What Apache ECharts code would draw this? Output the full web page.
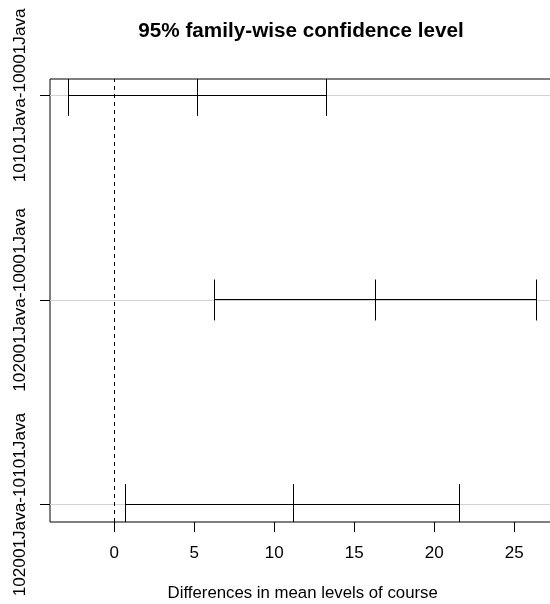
<!DOCTYPE html>
<html>
<head>
<meta charset="utf-8">
<script src="https://cdn.jsdelivr.net/npm/echarts@6/dist/echarts.min.js"></script>
<style>html,body{margin:0;padding:0;background:#fff;}#c{width:550px;height:604px;}</style>
</head>
<body>
<div id="c"></div>
<script>
var comparisons = ['10101Java-10001Java', '102001Java-10001Java', '102001Java-10101Java'];
var diffs = [5.20, 16.35, 11.17];
var lwrs = [-2.89, 6.29, 0.73];
var uprs = [13.29, 26.40, 21.60];
var xTicks = [0, 5, 10, 15, 20, 25];
var rowPos = [3, 2, 1];

var FONT = '"Liberation Sans", Arial, sans-serif';
var chart = echarts.init(document.getElementById('c'), null, {renderer: 'canvas'});

var ciData = comparisons.map(function (name, i) {
  return [rowPos[i], lwrs[i], diffs[i], uprs[i]];
});

function crisp(v) { return Math.round(v - 0.5) + 0.5; }

var option = {
  backgroundColor: '#fff',
  animation: false,
  title: {
    text: '95% family-wise confidence level',
    left: 296, top: 16, textAlign: 'center',
    textStyle: {fontFamily: FONT, fontSize: 20.7, fontWeight: 'bold', color: '#000'}
  },
  grid: {left: 50, right: -5.4, top: 79, bottom: 82, show: true, borderColor: '#000', borderWidth: 1, backgroundColor: 'transparent', outerBoundsMode: 'none', containLabel: false},
  xAxis: {
    type: 'value', min: -4.02, max: 27.57,
    name: 'Differences in mean levels of course', nameLocation: 'middle', nameGap: 63,
    nameTextStyle: {fontFamily: FONT, fontSize: 16.8, color: '#000'},
    axisLine: {show: false, onZero: false},
    axisTick: {show: true, inside: false, length: 10, customValues: xTicks, lineStyle: {color: '#000', width: 1}},
    axisLabel: {customValues: xTicks, margin: 23, fontFamily: FONT, fontSize: 17, color: '#000'},
    splitLine: {show: false}
  },
  yAxis: {
    type: 'value', min: 0.915, max: 3.08,
    axisLine: {show: false, onZero: false},
    axisTick: {show: true, inside: false, length: 10, customValues: rowPos, lineStyle: {color: '#000', width: 1}},
    axisLabel: {
      customValues: rowPos, rotate: 90, margin: 21,
      fontFamily: FONT, fontSize: 17.2, color: '#000',
      formatter: function (v) {
        var idx = rowPos.indexOf(Math.round(v));
        return idx >= 0 ? comparisons[idx] : '';
      }
    },
    splitLine: {show: false}
  },
  series: [
    {
      type: 'line', data: [], silent: true, z: 1,
      markLine: {
        silent: true, symbol: ['none', 'none'], label: {show: false}, z: 1,
        lineStyle: {color: '#d3d3d3', type: 'solid', width: 1},
        data: rowPos.map(function (r) { return {yAxis: r}; })
      }
    },
    {
      type: 'line', data: [], silent: true, z: 2,
      markLine: {
        silent: true, symbol: ['none', 'none'], label: {show: false}, z: 2,
        lineStyle: {color: '#000', type: [4, 4], width: 1},
        data: [{xAxis: 0}]
      }
    },
    {
      type: 'custom', clip: true, silent: true, z: 10,
      data: ciData,
      encode: {x: [1, 2, 3], y: 0},
      renderItem: function (params, api) {
        var y = api.value(0);
        var l = api.coord([api.value(1), y]);
        var m = api.coord([api.value(2), y]);
        var u = api.coord([api.value(3), y]);
        var yc = crisp(l[1]);
        var top = api.coord([0, y + 0.1])[1];
        var bot = api.coord([0, y - 0.1])[1];
        var st = {stroke: '#000', lineWidth: 1};
        function seg(x1, y1, x2, y2) {
          return {type: 'line', shape: {x1: x1, y1: y1, x2: x2, y2: y2}, style: st};
        }
        return {
          type: 'group',
          children: [
            seg(crisp(l[0]), yc, crisp(u[0]), yc),
            seg(crisp(l[0]), top, crisp(l[0]), bot),
            seg(crisp(m[0]), top, crisp(m[0]), bot),
            seg(crisp(u[0]), top, crisp(u[0]), bot)
          ]
        };
      }
    }
  ]
};
chart.setOption(option);
</script>
</body>
</html>
